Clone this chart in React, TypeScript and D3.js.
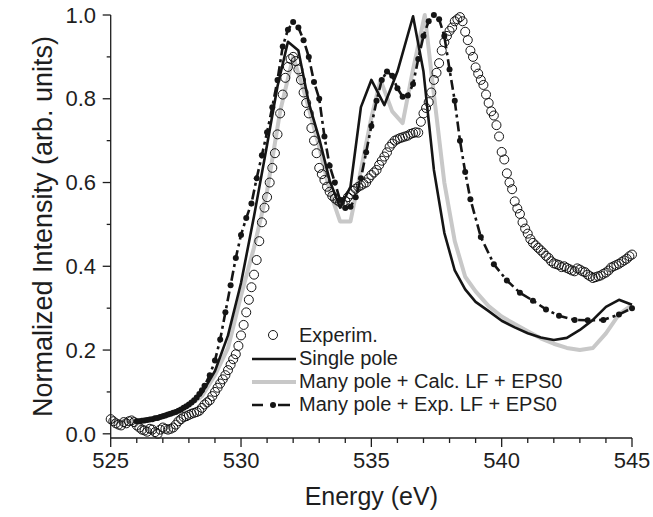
import React from 'react';
import * as d3 from 'd3';

// Values (energy in eV, normalized intensity)
const experim: [number, number][] = [
  [525.0, 0.035], [525.1, 0.03], [525.2, 0.025], [525.3, 0.022], [525.4, 0.02],
  [525.5, 0.028], [525.6, 0.025], [525.7, 0.03], [525.8, 0.032], [525.9, 0.028],
  [526.0, 0.02], [526.1, 0.015], [526.2, 0.01], [526.3, 0.008], [526.4, 0.005],
  [526.5, 0.012], [526.6, 0.01], [526.7, 0.004], [526.8, 0.0], [526.9, 0.01],
  [527.0, 0.015], [527.1, 0.012], [527.2, 0.01], [527.3, 0.012], [527.4, 0.015],
  [527.5, 0.022], [527.6, 0.03], [527.7, 0.035], [527.8, 0.04], [527.9, 0.042],
  [528.0, 0.045], [528.1, 0.048], [528.2, 0.05], [528.3, 0.052], [528.4, 0.055],
  [528.5, 0.062], [528.6, 0.07], [528.7, 0.075], [528.8, 0.08], [528.9, 0.09],
  [529.0, 0.1], [529.1, 0.11], [529.2, 0.12], [529.3, 0.13], [529.4, 0.14],
  [529.5, 0.152], [529.6, 0.165], [529.7, 0.178], [529.8, 0.19], [529.9, 0.21],
  [530.0, 0.235], [530.1, 0.26], [530.2, 0.29], [530.3, 0.32], [530.4, 0.35],
  [530.5, 0.38], [530.6, 0.415], [530.7, 0.46], [530.8, 0.505], [530.9, 0.54],
  [531.0, 0.565], [531.1, 0.6], [531.2, 0.635], [531.3, 0.67], [531.4, 0.715],
  [531.5, 0.765], [531.6, 0.81], [531.7, 0.85], [531.8, 0.876], [531.9, 0.895],
  [532.0, 0.9], [532.1, 0.89], [532.2, 0.87], [532.3, 0.845], [532.4, 0.815],
  [532.5, 0.79], [532.6, 0.765], [532.7, 0.73], [532.8, 0.7], [532.9, 0.67],
  [533.0, 0.635], [533.1, 0.62], [533.2, 0.606], [533.3, 0.59], [533.4, 0.578],
  [533.5, 0.568], [533.6, 0.562], [533.7, 0.557], [533.8, 0.553], [533.9, 0.55],
  [534.0, 0.556], [534.1, 0.565], [534.2, 0.572], [534.3, 0.58], [534.4, 0.585],
  [534.5, 0.59], [534.6, 0.593], [534.7, 0.597], [534.8, 0.6], [534.9, 0.61],
  [535.0, 0.618], [535.1, 0.624], [535.2, 0.63], [535.3, 0.642], [535.4, 0.652],
  [535.5, 0.662], [535.6, 0.672], [535.7, 0.685], [535.8, 0.693], [535.9, 0.7],
  [536.0, 0.703], [536.1, 0.706], [536.2, 0.708], [536.3, 0.71], [536.4, 0.712],
  [536.5, 0.716], [536.6, 0.718], [536.7, 0.72], [536.8, 0.719], [536.9, 0.745],
  [537.0, 0.765], [537.1, 0.778], [537.2, 0.792], [537.3, 0.815], [537.4, 0.845],
  [537.5, 0.862], [537.6, 0.885], [537.7, 0.915], [537.8, 0.935], [537.9, 0.95],
  [538.0, 0.962], [538.1, 0.97], [538.2, 0.985], [538.3, 0.99], [538.4, 0.995],
  [538.5, 0.985], [538.6, 0.96], [538.7, 0.94], [538.8, 0.915], [538.9, 0.9],
  [539.0, 0.875], [539.1, 0.86], [539.2, 0.845], [539.3, 0.833], [539.4, 0.81],
  [539.5, 0.79], [539.6, 0.77], [539.7, 0.76], [539.8, 0.737], [539.9, 0.71],
  [540.0, 0.673], [540.1, 0.655], [540.2, 0.622], [540.3, 0.6], [540.4, 0.584],
  [540.5, 0.555], [540.6, 0.538], [540.7, 0.525], [540.8, 0.505], [540.9, 0.49],
  [541.0, 0.478], [541.1, 0.465], [541.2, 0.456], [541.3, 0.45], [541.4, 0.444],
  [541.5, 0.438], [541.6, 0.432], [541.7, 0.425], [541.8, 0.42], [541.9, 0.412],
  [542.0, 0.407], [542.1, 0.405], [542.2, 0.403], [542.3, 0.398], [542.4, 0.4],
  [542.5, 0.396], [542.6, 0.393], [542.7, 0.39], [542.8, 0.388], [542.9, 0.395],
  [543.0, 0.392], [543.1, 0.388], [543.2, 0.386], [543.3, 0.38], [543.4, 0.376],
  [543.5, 0.372], [543.6, 0.374], [543.7, 0.376], [543.8, 0.378], [543.9, 0.382],
  [544.0, 0.385], [544.1, 0.39], [544.2, 0.397], [544.3, 0.4], [544.4, 0.403],
  [544.5, 0.406], [544.6, 0.41], [544.7, 0.414], [544.8, 0.418], [544.9, 0.424],
  [545.0, 0.428],
];

const singlePole: [number, number][] = [
  [526.0, 0.03], [526.5, 0.035], [527.0, 0.045], [527.5, 0.055], [528.0, 0.07],
  [528.5, 0.097], [529.0, 0.15], [529.5, 0.235], [530.0, 0.36], [530.5, 0.52],
  [531.0, 0.69], [531.4, 0.83], [531.8, 0.936], [532.2, 0.915], [532.6, 0.79],
  [533.0, 0.705], [533.4, 0.605], [533.8, 0.54], [534.2, 0.59], [534.6, 0.78],
  [535.0, 0.845], [535.5, 0.785], [536.0, 0.865], [536.6, 0.997], [537.0, 0.865],
  [537.4, 0.63], [537.8, 0.48], [538.2, 0.39], [538.6, 0.345], [539.0, 0.315],
  [539.5, 0.293], [540.0, 0.27], [540.5, 0.254], [541.0, 0.24], [541.5, 0.23],
  [542.0, 0.224], [542.5, 0.229], [543.0, 0.248], [543.5, 0.272], [544.0, 0.303],
  [544.5, 0.32], [545.0, 0.308],
];

const calcLF: [number, number][] = [
  [525.0, 0.03], [525.5, 0.03], [526.0, 0.032], [526.5, 0.036], [527.0, 0.043],
  [527.5, 0.052], [528.0, 0.067], [528.5, 0.09], [529.0, 0.14], [529.5, 0.205],
  [530.0, 0.33], [530.5, 0.445], [531.0, 0.58], [531.5, 0.77], [532.0, 0.9],
  [532.5, 0.8], [533.0, 0.685], [533.4, 0.58], [533.8, 0.507], [534.2, 0.507],
  [534.6, 0.63], [535.0, 0.755], [535.35, 0.845], [535.8, 0.77], [536.2, 0.742],
  [536.6, 0.87], [537.05, 1.0], [537.4, 0.81], [537.8, 0.6], [538.2, 0.46],
  [538.6, 0.375], [539.0, 0.34], [539.5, 0.305], [540.0, 0.28], [540.5, 0.262],
  [541.0, 0.245], [541.5, 0.228], [542.0, 0.215], [542.5, 0.205], [543.0, 0.2],
  [543.5, 0.205], [544.0, 0.24], [544.5, 0.285], [545.0, 0.308],
];

const expLF: [number, number][] = [
  [526.0, 0.03], [526.1, 0.03], [526.2, 0.031], [526.3, 0.032], [526.4, 0.033],
  [526.5, 0.034], [526.6, 0.035], [526.7, 0.037], [526.8, 0.038], [526.9, 0.04],
  [527.0, 0.042], [527.1, 0.044], [527.2, 0.046], [527.3, 0.048], [527.4, 0.05],
  [527.5, 0.052], [527.6, 0.055], [527.7, 0.058], [527.8, 0.062], [527.9, 0.066],
  [528.0, 0.07], [528.1, 0.075], [528.2, 0.08], [528.3, 0.087], [528.4, 0.095],
  [528.5, 0.104], [528.6, 0.115], [528.8, 0.14],
  [529.0, 0.175], [529.2, 0.225], [529.4, 0.29], [529.6, 0.355], [529.8, 0.42],
  [530.0, 0.475], [530.2, 0.515], [530.4, 0.55], [530.6, 0.61], [530.8, 0.665],
  [531.0, 0.72], [531.2, 0.78], [531.4, 0.845], [531.6, 0.925], [531.8, 0.965],
  [532.0, 0.983], [532.2, 0.97], [532.4, 0.94], [532.6, 0.9], [532.8, 0.84],
  [533.0, 0.8], [533.2, 0.71], [533.4, 0.64], [533.6, 0.6], [533.8, 0.558],
  [534.0, 0.539], [534.2, 0.542], [534.4, 0.565], [534.6, 0.61], [534.8, 0.672],
  [535.0, 0.735], [535.2, 0.795], [535.4, 0.845], [535.6, 0.865], [535.8, 0.855],
  [536.0, 0.825], [536.2, 0.805], [536.4, 0.808], [536.6, 0.835], [536.8, 0.895],
  [537.0, 0.95], [537.2, 0.985], [537.4, 1.0], [537.6, 0.99], [537.8, 0.95],
  [538.0, 0.87], [538.2, 0.795], [538.4, 0.7], [538.6, 0.625], [538.8, 0.56],
  [539.2, 0.47], [539.7, 0.405], [540.2, 0.366], [540.7, 0.337], [541.2, 0.318],
  [541.7, 0.297], [542.2, 0.282], [542.8, 0.272], [543.3, 0.271], [543.9, 0.272],
  [544.5, 0.285], [545.0, 0.3],
];

const xMajor = [525, 530, 535, 540, 545];
const yMajor = [0.0, 0.2, 0.4, 0.6, 0.8, 1.0];
const legendLabels = ['Experim.', 'Single pole', 'Many pole + Calc. LF + EPS0', 'Many pole + Exp. LF + EPS0'];

const width = 653;
const height = 517;
const marginLeft = 110.7;
const marginRight = 21;
const marginTop = 15;
const marginBottom = 79;
const font = '"Liberation Sans", Arial, Helvetica, sans-serif';
const ink = '#1e1e1e';

export default function App() {
  const x = d3.scaleLinear().domain([525, 545]).range([marginLeft, width - marginRight]);
  const y = d3.scaleLinear().domain([-0.01, 1.0]).range([height - marginBottom, marginTop]);

  const line = d3
    .line<[number, number]>()
    .x((d) => x(d[0]))
    .y((d) => y(d[1]));

  const xMinor = d3.range(525, 546, 1).filter((v) => !xMajor.includes(v));
  const yMinor = [0.1, 0.3, 0.5, 0.7, 0.9];
  const y0 = height - marginBottom;

  return (
    <svg
      width={width}
      height={height}
      viewBox={`0 0 ${width} ${height}`}
      style={{ position: 'absolute', left: 0, top: 0, background: '#fff' }}
      fontFamily={font}
    >
      {/* series */}
      <path d={line(calcLF) || ''} fill="none" stroke="#c8c8c8" strokeWidth={4} strokeLinejoin="round" />
      <path d={line(singlePole) || ''} fill="none" stroke="#151515" strokeWidth={2.6} strokeLinejoin="round" />
      <path
        d={line(expLF) || ''}
        fill="none"
        stroke="#151515"
        strokeWidth={2.6}
        strokeDasharray="10,4,3,4"
      />
      {expLF.map((d, i) => (
        <circle key={'e' + i} cx={x(d[0])} cy={y(d[1])} r={3} fill="#151515" />
      ))}
      {experim.map((d, i) => (
        <circle key={'o' + i} cx={x(d[0])} cy={y(d[1])} r={4.5} fill="none" stroke="#151515" strokeWidth={1} />
      ))}

      {/* x axis */}
      <g>
        <line x1={marginLeft} x2={width - marginRight} y1={y0} y2={y0} stroke={ink} strokeWidth={1.3} />
        {xMinor.map((v) => (
          <line key={'xm' + v} x1={x(v)} x2={x(v)} y1={y0} y2={y0 + 5} stroke={ink} strokeWidth={1.3} />
        ))}
        {xMajor.map((v) => (
          <g key={'xM' + v}>
            <line x1={x(v)} x2={x(v)} y1={y0} y2={y0 + 9} stroke={ink} strokeWidth={1.3} />
            <text x={x(v)} y={468} textAnchor="middle" fontSize={22} fill={ink}>
              {v}
            </text>
          </g>
        ))}
        <text x={x(535)} y={505} textAnchor="middle" fontSize={25} fill={ink}>
          Energy (eV)
        </text>
      </g>

      {/* y axis */}
      <g>
        <line x1={marginLeft} x2={marginLeft} y1={marginTop} y2={y0} stroke={ink} strokeWidth={1.3} />
        {yMinor.map((v) => (
          <line key={'ym' + v} x1={marginLeft - 4} x2={marginLeft} y1={y(v)} y2={y(v)} stroke={ink} strokeWidth={1.3} />
        ))}
        {yMajor.map((v) => (
          <g key={'yM' + v}>
            <line x1={marginLeft - 8} x2={marginLeft} y1={y(v)} y2={y(v)} stroke={ink} strokeWidth={1.3} />
            <text x={96} y={y(v)} dy="0.35em" textAnchor="end" fontSize={22} fill={ink}>
              {v.toFixed(1)}
            </text>
          </g>
        ))}
        <text
          transform={`translate(52,${(marginTop + y0) / 2}) rotate(-90)`}
          textAnchor="middle"
          fontSize={27}
          fill={ink}
        >
          Normalized Intensity (arb. units)
        </text>
      </g>

      {/* legend */}
      <g fontSize={20} fill={ink}>
        <circle cx={273} cy={335} r={4.5} fill="none" stroke="#151515" strokeWidth={1} />
        <line x1={252} x2={296} y1={359} y2={359} stroke="#151515" strokeWidth={2.6} />
        <line x1={252} x2={296} y1={382} y2={382} stroke="#c8c8c8" strokeWidth={4} />
        <line x1={252} x2={290} y1={405} y2={405} stroke="#151515" strokeWidth={2.6} strokeDasharray="11,15,12" />
        <circle cx={273} cy={405} r={3} fill="#151515" />
        {legendLabels.map((t, i) => (
          <text key={t} x={299} y={342 + i * 23}>
            {t}
          </text>
        ))}
      </g>
    </svg>
  );
}
